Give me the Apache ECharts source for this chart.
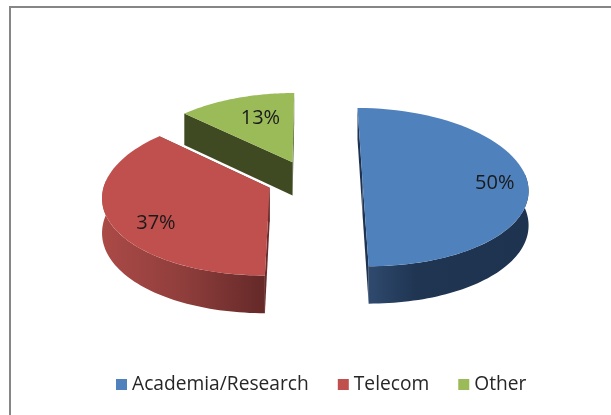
<!DOCTYPE html>
<html lang="en">
<head>
  <meta charset="UTF-8">
  <title>Pie</title>
  <style>
    html, body { margin: 0; padding: 0; background: #fff; }
    #chart { width: 611px; height: 415px; }
  </style>
  <script src="https://cdn.jsdelivr.net/npm/echarts@6/dist/echarts.min.js"></script>
</head>
<body>
<div id="chart"></div>
<script>
  // values
  var categories = ['Academia/Research', 'Telecom', 'Other'];
  var shares = [50, 37, 13];

  // look of each slice
  var topColors = ['#4f81bd', '#c0504d', '#9bbb59'];
  var cutColors = ['#1f3350', '#6a2c2b', '#3f4a22'];
  var rimStops = [
    [[0, '#2f4a6e'], [0.3, '#1f3552'], [1, '#1e3350']],
    [[0, '#ab4a47'], [0.5, '#8f3e3c'], [1, '#642928']],
    [[0, '#4a5a28'], [1, '#3f4a22']]
  ];
  var explode = [52.5, 43.5, 45];
  var labelRadius = [0.8, 0.77, 0.648];
  var labelShift = [3, -10, 3.6];

  // projection of the tilted disc
  var vpX = 310, vpY = 180, radiusX = 164.5, radiusY = 78.5, depth = 34, perspY = 0.09, perspX = 0.105;

  var total = shares.reduce(function (a, b) { return a + b; }, 0);
  var startAngle = [];
  shares.reduce(function (sum, v, i) { startAngle[i] = sum / total * Math.PI * 2; return sum + v; }, 0);

  function project(idx, angle, r, down) {
    var mid = startAngle[idx] + shares[idx] / total * Math.PI;
    var wx = explode[idx] * Math.sin(mid) + radiusX * r * Math.sin(angle);
    var wy = -explode[idx] / radiusX * 0.92 * Math.cos(mid) - r * Math.cos(angle);
    var fx = 1 / (1 - perspX * wy);
    var fy = 1 / (1 - perspY * wy);
    return [vpX + wx * fx, vpY + (radiusY * wy + down * depth) * fy];
  }

  function arcPoints(idx, from, to, down) {
    var pts = [];
    for (var k = 0; k <= 60; k++) {
      pts.push(project(idx, from + (to - from) * k / 60, 1, down));
    }
    return pts;
  }

  function renderSlice(params, api) {
    var idx = params.seriesIndex;
    var value = api.value(0);
    var a0 = startAngle[idx], a1 = a0 + value / total * Math.PI * 2;
    var topArc = arcPoints(idx, a0, a1, 0), lowArc = arcPoints(idx, a0, a1, 1);
    var c0 = project(idx, 0, 0, 0), c1 = project(idx, 0, 0, 1);
    var children = [];

    // flat cut faces first
    [0, 60].forEach(function (k) {
      children.push({
        type: 'polygon',
        shape: { points: [c0, topArc[k], lowArc[k], c1] },
        style: { fill: cutColors[idx] }
      });
    });

    // outer wall, only the part turned to the viewer
    var rimFrom = Math.max(a0, 85 * Math.PI / 180), rimTo = Math.min(a1, 275 * Math.PI / 180);
    if (rimTo > rimFrom) {
      var rimTop = arcPoints(idx, rimFrom, rimTo, 0), rimLow = arcPoints(idx, rimFrom, rimTo, 1);
      var xs = rimLow.map(function (p) { return p[0]; });
      var rimFill = new echarts.graphic.LinearGradient(Math.min.apply(null, xs), 0, Math.max.apply(null, xs), 0,
        rimStops[idx].map(function (s) { return { offset: s[0], color: s[1] }; }), true);
      children.push({
        type: 'polygon',
        shape: { points: rimTop.concat(rimLow.slice().reverse()) },
        style: { fill: rimFill }
      });
    }

    // top face
    children.push({
      type: 'polygon',
      shape: { points: [c0].concat(topArc) },
      style: { fill: topColors[idx] }
    });

    // percent label
    var lp = project(idx, (a0 + a1) / 2 + labelShift[idx] * Math.PI / 180, labelRadius[idx], 0);
    children.push({
      type: 'text',
      style: {
        text: Math.round(value / total * 100) + '%',
        x: lp[0], y: lp[1],
        align: 'center', verticalAlign: 'middle',
        font: '20px "Open Sans"', fill: '#1a1a1a'
      }
    });
    return { type: 'group', children: children };
  }

  var chart = echarts.init(document.getElementById('chart'));
  chart.setOption({
    animation: false,
    backgroundColor: '#fff',
    graphic: [{
      type: 'rect',
      silent: true,
      shape: { x: 10, y: 7, width: 800, height: 600 },
      style: { fill: 'none', stroke: '#868686', lineWidth: 2 }
    }],
    legend: {
      data: categories,
      left: 116,
      top: 375,
      padding: 0,
      icon: 'rect',
      itemWidth: 11,
      itemHeight: 11,
      itemGap: 29,
      selectedMode: false,
      textStyle: { fontFamily: 'Open Sans', fontSize: 19.2, color: '#262626' }
    },
    // back slices first so the nearer ones paint over them
    series: categories.map(function (name, i) {
      return {
        type: 'custom',
        name: name,
        coordinateSystem: 'none',
        silent: true,
        z: i === 2 ? 1 : (i === 1 ? 2 : 3),
        itemStyle: { color: topColors[i] },
        renderItem: renderSlice,
        data: [[shares[i]]]
      };
    })
  });
</script>
</body>
</html>
